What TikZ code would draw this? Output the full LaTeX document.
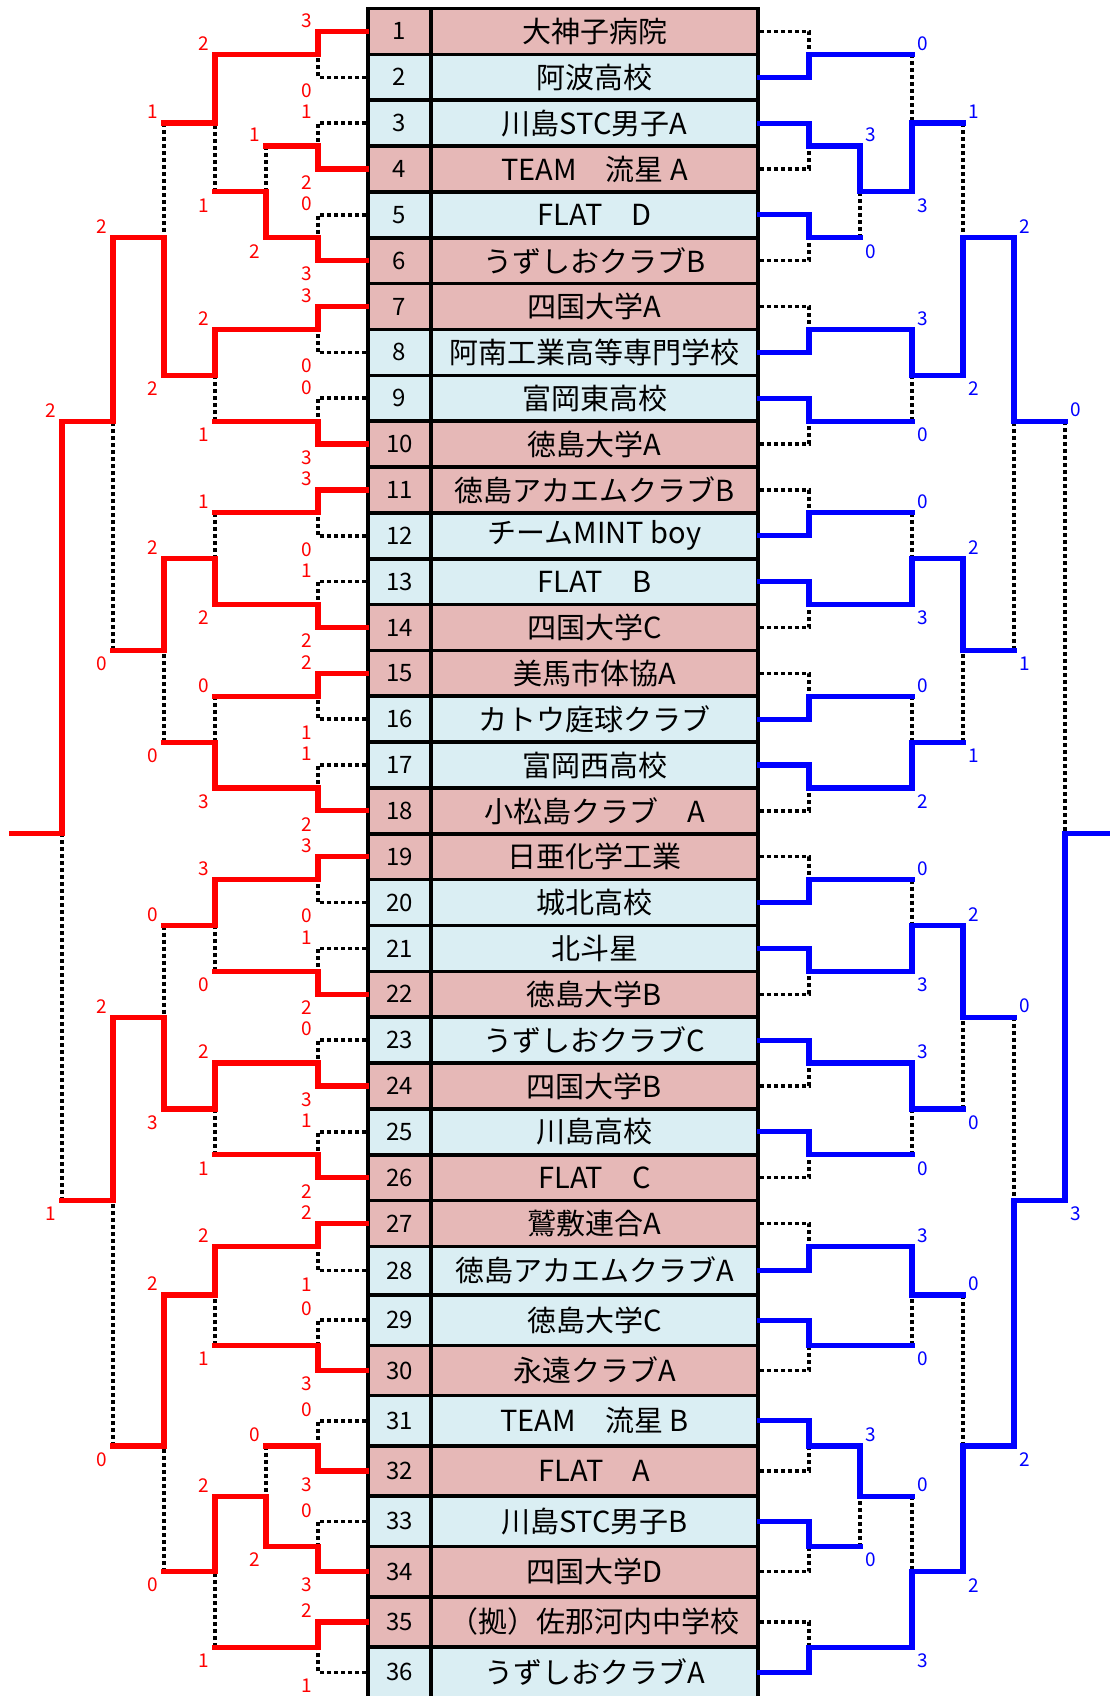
\documentclass[tikz,border=0pt]{standalone}
\usepackage{fontspec}
\setmainfont{Noto Sans CJK JP}
\definecolor{rowpink}{RGB}{230,184,183}
\definecolor{rowblue}{RGB}{218,238,243}
\tikzset{
  cell/.style={draw, line width=3.6pt, inner sep=0pt},
  numcell/.style={cell, minimum width=63pt, font=\fontsize{24}{24}\selectfont},
  namecell/.style={cell, minimum width=327pt, font=\fontsize{29}{29}\selectfont},
  redpath/.style={draw=red, line width=5.2pt, line cap=rect},
  bluepath/.style={draw=blue, line width=5.2pt, line cap=rect},
  lost/.style={draw=black, line width=3.5pt, dash pattern=on 4pt off 3pt},
  score/.style={inner sep=0pt, font=\fontsize{19}{19}\selectfont},
  lu/.style={score, text=red, xshift=-11pt, yshift=11pt},
  ld/.style={score, text=red, xshift=-11pt, yshift=-13.5pt},
  ru/.style={score, text=blue, xshift=10.5pt, yshift=11pt},
  rd/.style={score, text=blue, xshift=10.5pt, yshift=-13.5pt},
}
\begin{document}
\begin{tikzpicture}[x=1pt, y=-1pt]
      \useasboundingbox (0,0) rectangle (1110,1696);
      % the list of teams
      \foreach \name/\rowc [count=\i] in {
          大神子病院/rowpink, 阿波高校/rowblue, 川島STC男子A/rowblue,
          TEAM　流星 A/rowpink, FLAT　D/rowblue, うずしおクラブB/rowpink,
          四国大学A/rowpink, 阿南工業高等専門学校/rowblue, 富岡東高校/rowblue,
          徳島大学A/rowpink, 徳島アカエムクラブB/rowpink, チームMINT boy/rowblue,
          FLAT　B/rowblue, 四国大学C/rowpink, 美馬市体協A/rowpink,
          カトウ庭球クラブ/rowblue, 富岡西高校/rowblue, 小松島クラブ　A/rowpink,
          日亜化学工業/rowpink, 城北高校/rowblue, 北斗星/rowblue,
          徳島大学B/rowpink, うずしおクラブC/rowblue, 四国大学B/rowpink,
          川島高校/rowblue, FLAT　C/rowpink, 鷲敷連合A/rowpink,
          徳島アカエムクラブA/rowblue, 徳島大学C/rowblue, 永遠クラブA/rowpink,
          TEAM　流星 B/rowblue, FLAT　A/rowpink, 川島STC男子B/rowblue,
          四国大学D/rowpink, （拠）佐那河内中学校/rowpink, うずしおクラブA/rowblue} {
        \pgfmathsetmacro\ya{\i<29 ? 8.5+45.85*(\i-1) : 1295+50.3*(\i-29)}
        \pgfmathsetmacro\yb{\i<28 ? 8.5+45.85*\i : 1295+50.3*(\i-28)}
        \node[numcell, fill=\rowc, minimum height={\yb-\ya}] (n\i) at (399.5,{(\ya+\yb)/2}) {\i};
        \node[namecell, fill=\rowc, minimum height={\yb-\ya}] (t\i) at (594.5,{(\ya+\yb)/2}) {\name};
      }
      % joints of the two brackets
      \foreach \y [count=\k] in {54.35,146.05,237.75,329.45,421.15,512.85,604.55,696.25,787.95,
          879.65,971.35,1063.05,1154.75,1246.45,1345.3,1445.9,1546.5,1647.1} {
        \coordinate (La\k) at (318,\y);
        \coordinate (Ra\k) at (809,\y);
      }
      \foreach \y [count=\k] in {191.9,1496.2} {
        \coordinate (Lb\k) at (266,\y);
        \coordinate (Rb\k) at (860,\y);
      }
      \foreach \y [count=\k] in {123.1,375.3,558.7,742.1,925.5,1108.9,1295,1571.65} {
        \coordinate (Lc\k) at (215,\y);
        \coordinate (Rc\k) at (912,\y);
      }
      \foreach \y [count=\k] in {237.75,650.4,1017.2,1445.9} {
        \coordinate (Ld\k) at (164,\y);
        \coordinate (Rd\k) at (963,\y);
      }
      \foreach \y [count=\k] in {421.15,1200.6} {
        \coordinate (Le\k) at (113,\y);
        \coordinate (Re\k) at (1014,\y);
      }
      \coordinate (Lf) at (62,833.8);
      \coordinate (Rf) at (1065,833.8);
      \coordinate (Lend) at (12,833.8);
      \coordinate (Rend) at (1112,833.8);
      % left bracket, dotted
      \begin{scope}[lost]
        \draw (n2.west) -| node[ld] (sLa1d) {0} (La1);
        \draw (n3.west) -| node[lu] (sLa2u) {1} (La2);
        \draw (n5.west) -| node[lu] (sLa3u) {0} (La3);
        \draw (n8.west) -| node[ld] (sLa4d) {0} (La4);
        \draw (n9.west) -| node[lu] (sLa5u) {0} (La5);
        \draw (n12.west) -| node[ld] (sLa6d) {0} (La6);
        \draw (n13.west) -| node[lu] (sLa7u) {1} (La7);
        \draw (n16.west) -| node[ld] (sLa8d) {1} (La8);
        \draw (n17.west) -| node[lu] (sLa9u) {1} (La9);
        \draw (n20.west) -| node[ld] (sLa10d) {0} (La10);
        \draw (n21.west) -| node[lu] (sLa11u) {1} (La11);
        \draw (n23.west) -| node[lu] (sLa12u) {0} (La12);
        \draw (n25.west) -| node[lu] (sLa13u) {1} (La13);
        \draw (n28.west) -| node[ld] (sLa14d) {1} (La14);
        \draw (n29.west) -| node[lu] (sLa15u) {0} (La15);
        \draw (n31.west) -| node[lu] (sLa16u) {0} (La16);
        \draw (n33.west) -| node[lu] (sLa17u) {0} (La17);
        \draw (n36.west) -| node[ld] (sLa18d) {1} (La18);
        \draw (La2 -| Lb1) -- (Lb1);
        \draw (La16 -| Lb2) -- (Lb2);
        \draw (Lb1 -| Lc1) -- (Lc1);
        \draw (La5 -| Lc2) -- (Lc2);
        \draw (La6 -| Lc3) -- (Lc3);
        \draw (La8 -| Lc4) -- (Lc4);
        \draw (La11 -| Lc5) -- (Lc5);
        \draw (La13 -| Lc6) -- (Lc6);
        \draw (La15 -| Lc7) -- (Lc7);
        \draw (La18 -| Lc8) -- (Lc8);
        \draw (Lc1 -| Ld1) -- (Ld1);
        \draw (Lc4 -| Ld2) -- (Ld2);
        \draw (Lc5 -| Ld3) -- (Ld3);
        \draw (Lc8 -| Ld4) -- (Ld4);
        \draw (Ld2 -| Le1) -- (Le1);
        \draw (Ld4 -| Le2) -- (Le2);
        \draw (Le2 -| Lf) -- (Lf);
      \end{scope}
      % left bracket, red
      \begin{scope}[redpath]
        \draw (n1.west) -| node[lu] (sLa1u) {3} (La1);
        \draw (n4.west) -| node[ld] (sLa2d) {2} (La2);
        \draw (n6.west) -| node[ld] (sLa3d) {3} (La3);
        \draw (n7.west) -| node[lu] (sLa4u) {3} (La4);
        \draw (n10.west) -| node[ld] (sLa5d) {3} (La5);
        \draw (n11.west) -| node[lu] (sLa6u) {3} (La6);
        \draw (n14.west) -| node[ld] (sLa7d) {2} (La7);
        \draw (n15.west) -| node[lu] (sLa8u) {2} (La8);
        \draw (n18.west) -| node[ld] (sLa9d) {2} (La9);
        \draw (n19.west) -| node[lu] (sLa10u) {3} (La10);
        \draw (n22.west) -| node[ld] (sLa11d) {2} (La11);
        \draw (n24.west) -| node[ld] (sLa12d) {3} (La12);
        \draw (n26.west) -| node[ld] (sLa13d) {2} (La13);
        \draw (n27.west) -| node[lu] (sLa14u) {2} (La14);
        \draw (n30.west) -| node[ld] (sLa15d) {3} (La15);
        \draw (n32.west) -| node[ld] (sLa16d) {3} (La16);
        \draw (n34.west) -| node[ld] (sLa17d) {3} (La17);
        \draw (n35.west) -| node[lu] (sLa18u) {2} (La18);
        \draw (La3) -| node[ld] (sLb1d) {2} (Lb1);
        \draw (La17) -| node[ld] (sLb2d) {2} (Lb2);
        \draw (La1) -| node[lu] (sLc1u) {2} (Lc1);
        \draw (La4) -| node[lu] (sLc2u) {2} (Lc2);
        \draw (La7) -| node[ld] (sLc3d) {2} (Lc3);
        \draw (La9) -| node[ld] (sLc4d) {3} (Lc4);
        \draw (La10) -| node[lu] (sLc5u) {3} (Lc5);
        \draw (La12) -| node[lu] (sLc6u) {2} (Lc6);
        \draw (La14) -| node[lu] (sLc7u) {2} (Lc7);
        \draw (Lb2) -| node[lu] (sLc8u) {2} (Lc8);
        \draw (Lc2) -| node[ld] (sLd1d) {2} (Ld1);
        \draw (Lc3) -| node[lu] (sLd2u) {2} (Ld2);
        \draw (Lc6) -| node[ld] (sLd3d) {3} (Ld3);
        \draw (Lc7) -| node[lu] (sLd4u) {2} (Ld4);
        \draw (Ld1) -| node[lu] (sLe1u) {2} (Le1);
        \draw (Ld3) -| node[lu] (sLe2u) {2} (Le2);
        \draw (Le1) -| node[lu] (sLfu) {2} (Lf);
        \draw (La2) -- (La2 -| Lb1) node[lu] (sLb1u) {1};
        \draw (La16) -- (La16 -| Lb2) node[lu] (sLb2u) {0};
        \draw (Lb1) -- (Lb1 -| Lc1) node[ld] (sLc1d) {1};
        \draw (La5) -- (La5 -| Lc2) node[ld] (sLc2d) {1};
        \draw (La6) -- (La6 -| Lc3) node[lu] (sLc3u) {1};
        \draw (La8) -- (La8 -| Lc4) node[lu] (sLc4u) {0};
        \draw (La11) -- (La11 -| Lc5) node[ld] (sLc5d) {0};
        \draw (La13) -- (La13 -| Lc6) node[ld] (sLc6d) {1};
        \draw (La15) -- (La15 -| Lc7) node[ld] (sLc7d) {1};
        \draw (La18) -- (La18 -| Lc8) node[ld] (sLc8d) {1};
        \draw (Lc1) -- (Lc1 -| Ld1) node[lu] (sLd1u) {1};
        \draw (Lc4) -- (Lc4 -| Ld2) node[ld] (sLd2d) {0};
        \draw (Lc5) -- (Lc5 -| Ld3) node[lu] (sLd3u) {0};
        \draw (Lc8) -- (Lc8 -| Ld4) node[ld] (sLd4d) {0};
        \draw (Ld2) -- (Ld2 -| Le1) node[ld] (sLe1d) {0};
        \draw (Ld4) -- (Ld4 -| Le2) node[ld] (sLe2d) {0};
        \draw (Le2) -- (Le2 -| Lf) node[ld] (sLfd) {1};
        \draw (Lf) -- (Lend);
      \end{scope}
      % right bracket, dotted
      \begin{scope}[lost]
        \draw (t1.east) -| (Ra1);
        \draw (t4.east) -| (Ra2);
        \draw (t6.east) -| (Ra3);
        \draw (t7.east) -| (Ra4);
        \draw (t10.east) -| (Ra5);
        \draw (t11.east) -| (Ra6);
        \draw (t14.east) -| (Ra7);
        \draw (t15.east) -| (Ra8);
        \draw (t18.east) -| (Ra9);
        \draw (t19.east) -| (Ra10);
        \draw (t22.east) -| (Ra11);
        \draw (t24.east) -| (Ra12);
        \draw (t26.east) -| (Ra13);
        \draw (t27.east) -| (Ra14);
        \draw (t30.east) -| (Ra15);
        \draw (t32.east) -| (Ra16);
        \draw (t34.east) -| (Ra17);
        \draw (t35.east) -| (Ra18);
        \draw (Ra3 -| Rb1) -- (Rb1);
        \draw (Ra17 -| Rb2) -- (Rb2);
        \draw (Ra1 -| Rc1) -- (Rc1);
        \draw (Ra5 -| Rc2) -- (Rc2);
        \draw (Ra6 -| Rc3) -- (Rc3);
        \draw (Ra8 -| Rc4) -- (Rc4);
        \draw (Ra10 -| Rc5) -- (Rc5);
        \draw (Ra13 -| Rc6) -- (Rc6);
        \draw (Ra15 -| Rc7) -- (Rc7);
        \draw (Rb2 -| Rc8) -- (Rc8);
        \draw (Rc1 -| Rd1) -- (Rd1);
        \draw (Rc4 -| Rd2) -- (Rd2);
        \draw (Rc6 -| Rd3) -- (Rd3);
        \draw (Rc7 -| Rd4) -- (Rd4);
        \draw (Rd2 -| Re1) -- (Re1);
        \draw (Rd3 -| Re2) -- (Re2);
        \draw (Re1 -| Rf) -- (Rf);
      \end{scope}
      % right bracket, blue
      \begin{scope}[bluepath]
        \draw (t2.east) -| (Ra1);
        \draw (t3.east) -| (Ra2);
        \draw (t5.east) -| (Ra3);
        \draw (t8.east) -| (Ra4);
        \draw (t9.east) -| (Ra5);
        \draw (t12.east) -| (Ra6);
        \draw (t13.east) -| (Ra7);
        \draw (t16.east) -| (Ra8);
        \draw (t17.east) -| (Ra9);
        \draw (t20.east) -| (Ra10);
        \draw (t21.east) -| (Ra11);
        \draw (t23.east) -| (Ra12);
        \draw (t25.east) -| (Ra13);
        \draw (t28.east) -| (Ra14);
        \draw (t29.east) -| (Ra15);
        \draw (t31.east) -| (Ra16);
        \draw (t33.east) -| (Ra17);
        \draw (t36.east) -| (Ra18);
        \draw (Ra2) -| node[ru] (sRb1u) {3} (Rb1);
        \draw (Ra16) -| node[ru] (sRb2u) {3} (Rb2);
        \draw (Rb1) -| node[rd] (sRc1d) {3} (Rc1);
        \draw (Ra4) -| node[ru] (sRc2u) {3} (Rc2);
        \draw (Ra7) -| node[rd] (sRc3d) {3} (Rc3);
        \draw (Ra9) -| node[rd] (sRc4d) {2} (Rc4);
        \draw (Ra11) -| node[rd] (sRc5d) {3} (Rc5);
        \draw (Ra12) -| node[ru] (sRc6u) {3} (Rc6);
        \draw (Ra14) -| node[ru] (sRc7u) {3} (Rc7);
        \draw (Ra18) -| node[rd] (sRc8d) {3} (Rc8);
        \draw (Rc2) -| node[rd] (sRd1d) {2} (Rd1);
        \draw (Rc3) -| node[ru] (sRd2u) {2} (Rd2);
        \draw (Rc5) -| node[ru] (sRd3u) {2} (Rd3);
        \draw (Rc8) -| node[rd] (sRd4d) {2} (Rd4);
        \draw (Rd1) -| node[ru] (sRe1u) {2} (Re1);
        \draw (Rd4) -| node[rd] (sRe2d) {2} (Re2);
        \draw (Re2) -| node[rd] (sRfd) {3} (Rf);
        \draw (Ra3) -- (Ra3 -| Rb1) node[rd] (sRb1d) {0};
        \draw (Ra17) -- (Ra17 -| Rb2) node[rd] (sRb2d) {0};
        \draw (Ra1) -- (Ra1 -| Rc1) node[ru] (sRc1u) {0};
        \draw (Ra5) -- (Ra5 -| Rc2) node[rd] (sRc2d) {0};
        \draw (Ra6) -- (Ra6 -| Rc3) node[ru] (sRc3u) {0};
        \draw (Ra8) -- (Ra8 -| Rc4) node[ru] (sRc4u) {0};
        \draw (Ra10) -- (Ra10 -| Rc5) node[ru] (sRc5u) {0};
        \draw (Ra13) -- (Ra13 -| Rc6) node[rd] (sRc6d) {0};
        \draw (Ra15) -- (Ra15 -| Rc7) node[rd] (sRc7d) {0};
        \draw (Rb2) -- (Rb2 -| Rc8) node[ru] (sRc8u) {0};
        \draw (Rc1) -- (Rc1 -| Rd1) node[ru] (sRd1u) {1};
        \draw (Rc4) -- (Rc4 -| Rd2) node[rd] (sRd2d) {1};
        \draw (Rc6) -- (Rc6 -| Rd3) node[rd] (sRd3d) {0};
        \draw (Rc7) -- (Rc7 -| Rd4) node[ru] (sRd4u) {0};
        \draw (Rd2) -- (Rd2 -| Re1) node[rd] (sRe1d) {1};
        \draw (Rd3) -- (Rd3 -| Re2) node[ru] (sRe2u) {0};
        \draw (Re1) -- (Re1 -| Rf) node[ru] (sRfu) {0};
        \draw (Rf) -- (Rend);
      \end{scope}
    \end{tikzpicture}
\end{document}
